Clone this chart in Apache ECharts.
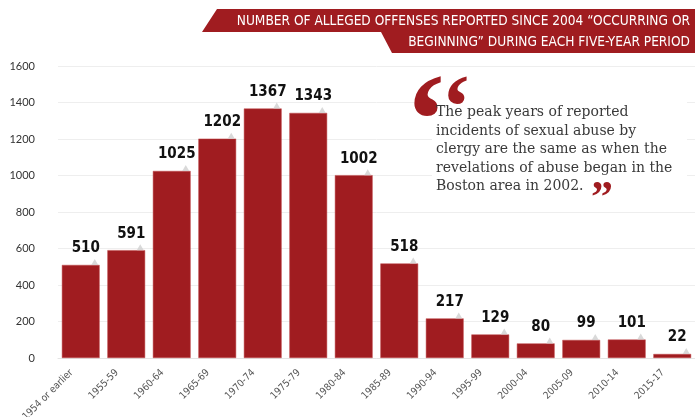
<!DOCTYPE html>
<html>
<head>
<meta charset="utf-8">
<script src="https://cdn.jsdelivr.net/npm/echarts@6/dist/echarts.min.js"></script>
<style>html,body{margin:0;padding:0;background:#fff;}#c{width:695px;height:417px;}</style>
</head>
<body>
<div id="c"></div>
<script>
var categories = ['1954 or earlier','1955-59','1960-64','1965-69','1970-74','1975-79','1980-84','1985-89','1990-94','1995-99','2000-04','2005-09','2010-14','2015-17'];
var offenses = [510, 591, 1025, 1202, 1367, 1343, 1002, 518, 217, 129, 80, 99, 101, 22];
var titleLines = ['NUMBER OF ALLEGED OFFENSES REPORTED SINCE 2004 \u201cOCCURRING OR', 'BEGINNING\u201d DURING EACH FIVE-YEAR PERIOD'];
var quoteLines = ['The peak years of reported', 'incidents of sexual abuse by', 'clergy are the same as when the', 'revelations of abuse began in the', 'Boston area in 2002.'];

var RED = '#a01c20';
var chart = echarts.init(document.getElementById('c'));
chart.setOption({
  animation: false,
  backgroundColor: '#fff',
  grid: { left: 58, right: 0, top: 66, bottom: 59, containLabel: false, outerBoundsMode: 'none' },
  xAxis: {
    type: 'category',
    data: categories,
    axisLine: { show: true, lineStyle: { color: '#e4e4e4' } },
    axisTick: { show: false },
    axisLabel: {
      rotate: 45, fontSize: 10, color: '#555', margin: 4,
      fontFamily: 'DejaVu Sans Condensed, Liberation Sans, sans-serif',
      padding: [0, 13, 0, 0], interval: 0
    }
  },
  yAxis: {
    type: 'value', min: 0, max: 1600, interval: 200,
    axisLine: { show: false }, axisTick: { show: false },
    axisLabel: { fontSize: 11, color: '#333', margin: 23, fontFamily: 'Lato, sans-serif', formatter: function (v) { return String(v); } },
    splitLine: { lineStyle: { color: '#eeeeee' } }
  },
  series: [
    {
      type: 'bar', data: offenses, barCategoryGap: '17%',
      itemStyle: { color: RED, borderColor: '#c04a4d', borderWidth: 0.5 },
      label: {
        show: true, position: 'top', distance: 9, offset: [5, 0],
        fontSize: 15, fontWeight: 'bold', color: '#111',
        fontFamily: 'DejaVu Sans Condensed, Liberation Sans, sans-serif'
      },
      z: 2
    },
    {
      type: 'scatter', data: offenses, symbol: 'triangle', symbolSize: [7, 6],
      symbolOffset: [14, -3], itemStyle: { color: '#cfcfcf' }, z: 3, silent: true
    }
  ],
  graphic: [
    { type: 'polygon', z: 100, shape: { points: [[217, 9], [695, 9], [695, 53], [392, 53], [381, 32], [202, 32]] }, style: { fill: RED } },
    { type: 'text', z: 101, right: 5, top: 14, style: { text: titleLines[0], fill: '#fff', font: '13.6px "DejaVu Sans Condensed", sans-serif', textAlign: 'right' } },
    { type: 'text', z: 101, right: 5, top: 35, style: { text: titleLines[1], fill: '#fff', font: '13.6px "DejaVu Sans Condensed", sans-serif', textAlign: 'right' } },
    { type: 'rect', z: 100, shape: { x: 432, y: 80, width: 255, height: 122 }, style: { fill: '#fff' } },
    { type: 'text', z: 101, x: 404, y: 64, style: { text: '\u2018', fill: RED, font: 'bold 132px "Liberation Serif", serif' } },
    { type: 'text', z: 101, x: 441, y: 67, style: { text: '\u2018', fill: RED, font: 'bold 92px "Liberation Serif", serif' } },
    { type: 'text', z: 102, x: 436, y: 103, style: { text: quoteLines.join('\n'), fill: '#3a3a3a', font: '14px "DejaVu Serif", serif', lineHeight: 18.6 } },
    { type: 'text', z: 101, x: 591, y: 178, style: { text: '\u201d', fill: RED, font: 'bold 44px "Liberation Serif", serif' } }
  ]
});
</script>
</body>
</html>
